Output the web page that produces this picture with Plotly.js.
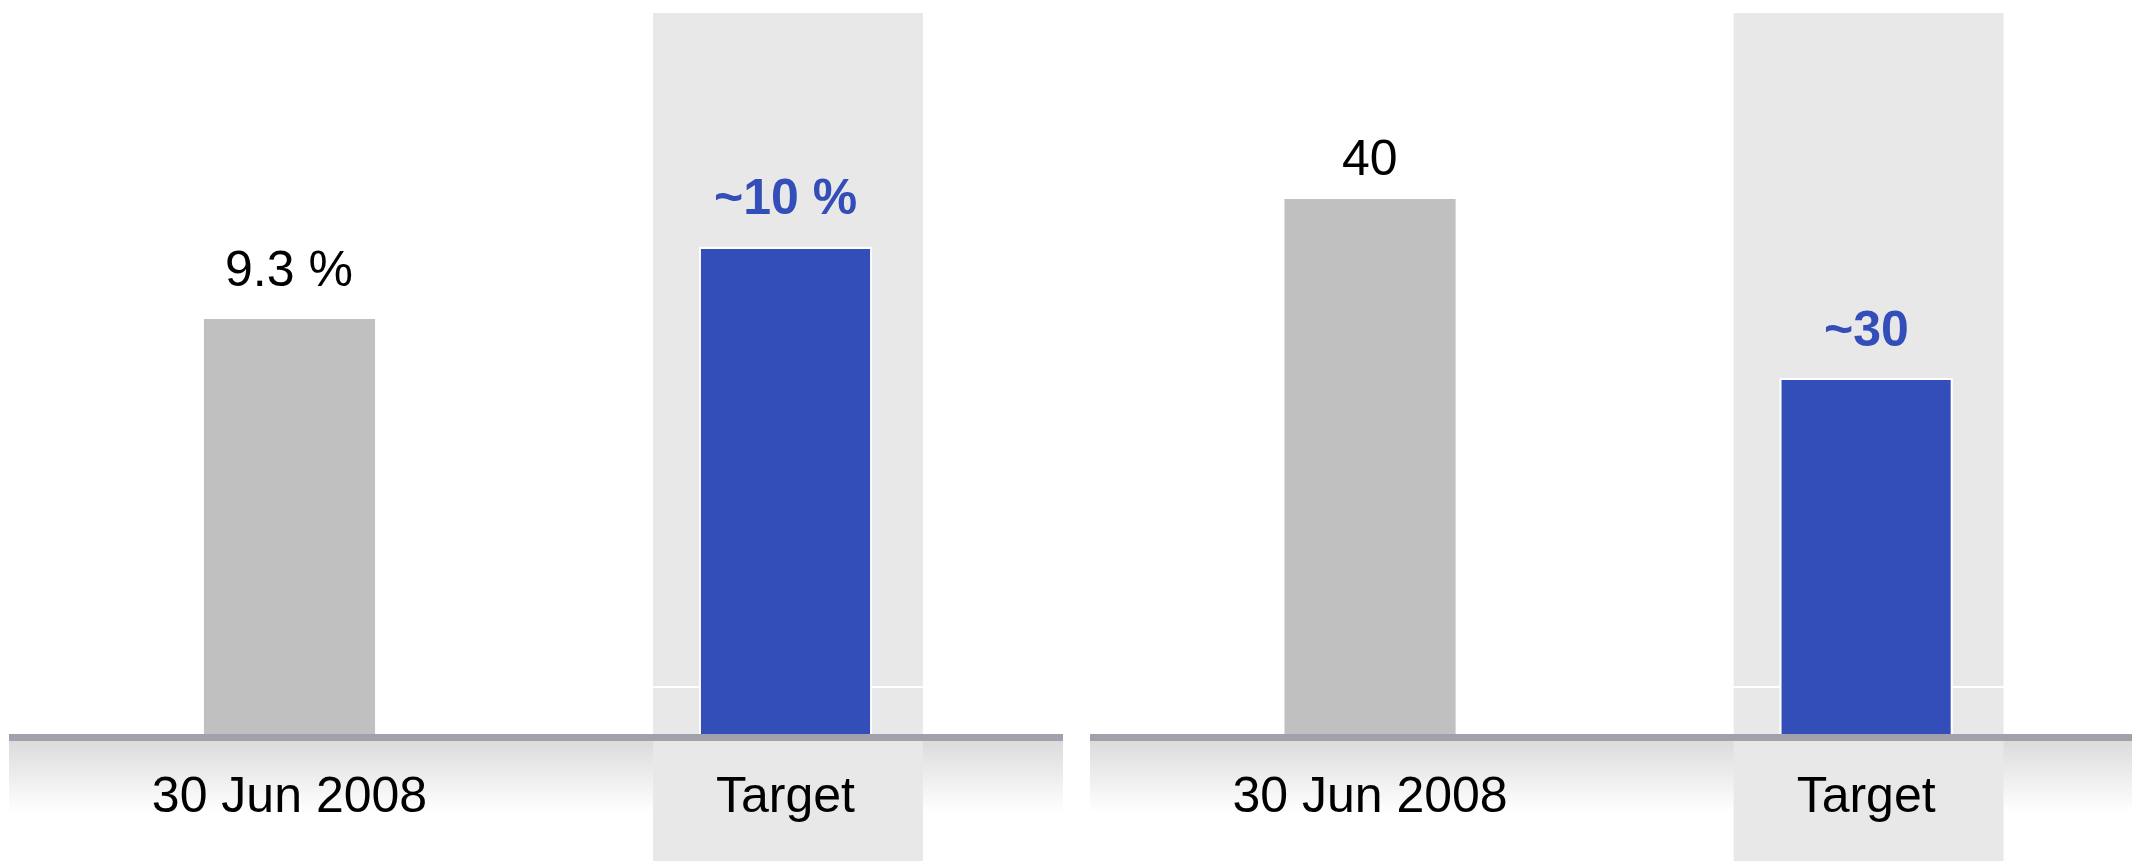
<!DOCTYPE html>
<html>
<head>
<meta charset="utf-8">
<script src="https://cdn.plot.ly/plotly-3.0.1.min.js"></script>
<style>
  html, body { margin: 0; padding: 0; background: #ffffff; }
  #chart { width: 2132px; height: 861px; }
</style>
</head>
<body>
<div id="chart"></div>
<script>
// ---- data ----
const categories = ['30 Jun 2008', 'Target'];
const leftValues = [9.3, 10];
const leftLabels = ['9.3 %', '~10 %'];
const rightValues = [40, 30];
const rightLabels = ['40', '~30'];

// ---- styles ----
const GRAY = '#c0c0c0';
const BLUE = '#334db9';
const SHADE = '#e8e8e8';
const BASE = '#a1a1ab';
const FONT = 'Liberation Sans, Arial, sans-serif';
const barColors = [GRAY, BLUE];
const barLineColors = ['rgba(0,0,0,0)', '#ffffff'];
const barLineWidths = [0, 2];
const labelColors = ['#000000', BLUE];
const labelWeights = ['normal', 'bold'];
const leftShift = [20, 21];
const rightShift = [11, 20];

const W = 2132, H = 861, T = 13, B = 127;
const plotH = H - T - B;

function barTrace(vals, xa, ya) {
  return {
    type: 'bar',
    x: categories,
    y: vals,
    xaxis: xa, yaxis: ya,
    width: 0.345,
    marker: { color: barColors, line: { color: barLineColors, width: barLineWidths } },
    hoverinfo: 'skip'
  };
}

const data = [barTrace(leftValues, 'x', 'y'), barTrace(rightValues, 'x2', 'y2')];

const shapes = [];
// gradient band under each baseline
const gradTop = 741, gradBot = 813, steps = 36;
['x domain', 'x2 domain'].forEach(function (xr) {
  for (let i = 0; i < steps; i++) {
    const p0 = gradTop + (gradBot - gradTop) * i / steps;
    const p1 = gradTop + (gradBot - gradTop) * (i + 1) / steps + 0.5;
    const c = Math.round(220 + 35 * (i + 0.5) / steps);
    shapes.push({
      type: 'rect', xref: xr, yref: 'paper', layer: 'below',
      x0: 0, x1: 1,
      y0: (H - B - p1) / plotH, y1: (H - B - p0) / plotH,
      fillcolor: 'rgb(' + c + ',' + c + ',' + c + ')', line: { width: 0 }
    });
  }
});
// shaded target column
const targetIdx = categories.indexOf('Target');
['x', 'x2'].forEach(function (xr) {
  shapes.push({
    type: 'rect', xref: xr, yref: 'paper', layer: 'below',
    x0: targetIdx - 0.267, x1: targetIdx + 0.277,
    y0: -B / plotH, y1: 1,
    fillcolor: SHADE, line: { width: 0 }
  });
});

const annotations = [];
function addLabels(vals, labels, shifts, xr, yr) {
  vals.forEach(function (v, i) {
    annotations.push({
      xref: xr, yref: yr, x: categories[i], y: v,
      text: labels[i], showarrow: false,
      xanchor: 'center', yanchor: 'bottom', yshift: shifts[i],
      font: { family: FONT, size: 50, color: labelColors[i], weight: labelWeights[i] }
    });
  });
}
addLabels(leftValues, leftLabels, leftShift, 'x', 'y');
addLabels(rightValues, rightLabels, rightShift, 'x2', 'y2');

function xAxis(domain, range, anchor) {
  return {
    domain: domain, range: range, anchor: anchor, type: 'category',
    showline: true, linewidth: 7, linecolor: BASE,
    ticks: '', showgrid: false, zeroline: false, fixedrange: true,
    tickfont: { family: FONT, size: 50, color: '#000000' },
    ticklabelstandoff: 11
  };
}
function yAxis(range, anchor, gridVal) {
  return {
    range: range, anchor: anchor, domain: [0, 1],
    showticklabels: false, showline: false, zeroline: false,
    showgrid: true, gridcolor: '#ffffff', gridwidth: 1.5,
    tickmode: 'array', tickvals: [gridVal], ticks: '', fixedrange: true
  };
}

const layout = {
  width: W, height: H,
  margin: { l: 0, r: 0, t: T, b: B, pad: 0 },
  paper_bgcolor: '#ffffff',
  plot_bgcolor: 'rgba(0,0,0,0)',
  showlegend: false,
  font: { family: FONT, color: '#000000' },
  bargap: 0,
  xaxis: xAxis([9 / W, 1063 / W], [-0.5655, 1.5595], 'y'),
  yaxis: yAxis([5.2085, 12.317], 'x', 5.672),
  xaxis2: xAxis([1090 / W, 1], [-0.5645, 1.536], 'y2'),
  yaxis2: yAxis([10.28, 50.34], 'x2', 12.89),
  shapes: shapes,
  annotations: annotations
};

Plotly.newPlot('chart', data, layout, { displayModeBar: false, staticPlot: true });
</script>
</body>
</html>
